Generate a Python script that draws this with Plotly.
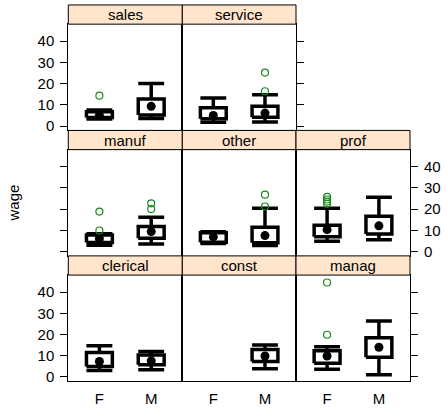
import plotly.graph_objects as go

# ---------------- data ----------------
panels = ["sales", "service", "manuf", "other", "prof", "clerical", "const", "manag"]
groups = ["F", "M"]

lower_F  = [3.35, 1.75, 3.0, 3.8, 4.9, 3.0, None, 3.7]
q1_F     = [4.0, 3.5, 4.2, 4.4, 7.0, 5.0, None, 6.5]
median_F = [5.0, 5.0, 6.0, 6.9, 10.3, 7.3, None, 9.9]
q3_F     = [6.8, 8.6, 7.8, 8.9, 12.4, 11.5, None, 12.4]
upper_F  = [7.6, 13.2, 8.4, 9.3, 20.4, 14.7, None, 14.3]
outliers_F = [[14.3], [], [9.9, 18.8], [], [22.5, 23.5, 24.5, 25.7], [], [], [19.9, 44.5]]

lower_M  = [3.6, 1.9, 3.6, 2.8, 5.5, 3.4, 3.9, 1.1]
q1_M     = [5.2, 4.2, 6.3, 4.1, 8.3, 5.8, 7.3, 9.3]
median_M = [9.3, 6.1, 9.4, 7.5, 12.1, 7.6, 9.9, 14.0]
q3_M     = [12.8, 9.3, 11.8, 11.4, 16.6, 10.4, 13.0, 18.5]
upper_M  = [20.1, 14.8, 16.1, 20.4, 25.6, 12.0, 15.1, 26.4]
outliers_M = [[], [16.4, 25.2], [20.0, 22.7], [21.2, 26.8], [], [], [], []]

y_ticks = [0, 10, 20, 30, 40]

# ---------------- layout geometry (page pixels) ----------------
W, H = 447, 410


def fx(p):
    return p / W


def fy(p):
    return 1 - p / H


col_edges = [(68.3, 182.3), (182.3, 296.0), (296.0, 410.0)]
top0, strip_h, panel_h = 5.0, 19.4, 107.3
positions = [(0, 0), (0, 1), (1, 0), (1, 1), (1, 2), (2, 0), (2, 1), (2, 2)]
# y-axis style per panel: (side, ticks, labels)
yaxis_style = {
    "sales": ("left", True, True),
    "service": ("right", True, False),
    "manuf": ("left", True, False),
    "other": ("left", False, False),
    "prof": ("right", True, True),
    "clerical": ("left", True, True),
    "const": ("left", False, False),
    "manag": ("right", True, False),
}

FONT = "Liberation Sans, Arial, Helvetica, sans-serif"
STRIP_BG = "#ffe5cc"
OUT_COL = "#1a8a1a"
HALF = 0.25

fig = go.Figure()
shapes, annotations = [], []
layout_axes = {}


def row_geom(r):
    s_top = top0 + r * (strip_h + panel_h)
    p_top = s_top + strip_h
    p_bot = p_top + panel_h
    return s_top, p_top, p_bot


for i, name in enumerate(panels):
    r, c = positions[i]
    k = i + 1
    xa = "x" if k == 1 else f"x{k}"
    ya = "y" if k == 1 else f"y{k}"
    x0, x1 = col_edges[c]
    s_top, p_top, p_bot = row_geom(r)

    side, has_ticks, has_labels = yaxis_style[name]
    layout_axes["xaxis" if k == 1 else f"xaxis{k}"] = dict(
        domain=[fx(x0), fx(x1)], anchor=ya, range=[0.4, 2.6],
        tickvals=[1, 2], ticktext=groups, showticklabels=(r == 2), ticks="",
        ticklabelstandoff=4,
        showgrid=False, zeroline=False, showline=True, mirror=True,
        linecolor="black", linewidth=1, tickfont=dict(family=FONT, size=15, color="black"),
        fixedrange=True,
    )
    layout_axes["yaxis" if k == 1 else f"yaxis{k}"] = dict(
        domain=[fy(p_bot), fy(p_top)], anchor=xa, range=[-2.05, 48.0],
        side=side, tickvals=y_ticks, ticks="outside" if has_ticks else "",
        ticklen=7, tickwidth=1, tickcolor="black", showticklabels=has_labels,
        ticklabelstandoff=3,
        showgrid=False, zeroline=False, showline=True, mirror=True,
        linecolor="black", linewidth=1, tickfont=dict(family=FONT, size=15, color="black"),
        fixedrange=True,
    )

    # strip
    shapes.append(dict(type="rect", xref="paper", yref="paper",
                       x0=fx(x0), x1=fx(x1), y0=fy(p_top), y1=fy(s_top),
                       fillcolor=STRIP_BG, line=dict(color="black", width=1), layer="above"))
    annotations.append(dict(text=name, xref="paper", yref="paper",
                            x=fx((x0 + x1) / 2), y=fy((s_top + p_top) / 2),
                            showarrow=False, xanchor="center", yanchor="middle",
                            font=dict(family=FONT, size=15, color="black")))

    stats = [
        (1, lower_F[i], q1_F[i], median_F[i], q3_F[i], upper_F[i], outliers_F[i]),
        (2, lower_M[i], q1_M[i], median_M[i], q3_M[i], upper_M[i], outliers_M[i]),
    ]
    for xpos, lo, q1, med, q3, hi, outs in stats:
        if med is None:
            continue
        xs = [xpos - HALF, xpos + HALF, xpos + HALF, xpos - HALF, xpos - HALF, None,
              xpos, xpos, None, xpos - HALF, xpos + HALF, None,
              xpos, xpos, None, xpos - HALF, xpos + HALF]
        ys = [q1, q1, q3, q3, q1, None,
              q3, hi, None, hi, hi, None,
              q1, lo, None, lo, lo]
        fig.add_trace(go.Scatter(x=xs, y=ys, mode="lines", xaxis=xa, yaxis=ya,
                                 line=dict(color="black", width=3.5),
                                 hoverinfo="skip", showlegend=False))
        fig.add_trace(go.Scatter(x=[xpos], y=[med], mode="markers", xaxis=xa, yaxis=ya,
                                 marker=dict(color="black", size=9),
                                 hoverinfo="skip", showlegend=False))
        if outs:
            fig.add_trace(go.Scatter(x=[xpos] * len(outs), y=outs, mode="markers",
                                     xaxis=xa, yaxis=ya,
                                     marker=dict(symbol="circle-open", color=OUT_COL, size=7,
                                                 line=dict(width=1.2, color=OUT_COL)),
                                     hoverinfo="skip", showlegend=False))

annotations.append(dict(text="wage", xref="paper", yref="paper", x=fx(12.5), y=fy(205),
                        showarrow=False, textangle=-90, xanchor="center", yanchor="middle",
                        font=dict(family=FONT, size=15, color="black")))

fig.update_layout(
    width=W, height=H, margin=dict(l=0, r=0, t=0, b=0),
    paper_bgcolor="white", plot_bgcolor="white",
    shapes=shapes, annotations=annotations, showlegend=False,
    **layout_axes,
)

fig.write_html(
    "out.html",
    config={"displayModeBar": False},
    post_script="document.body.style.margin='0';document.body.style.overflow='hidden';",
)
